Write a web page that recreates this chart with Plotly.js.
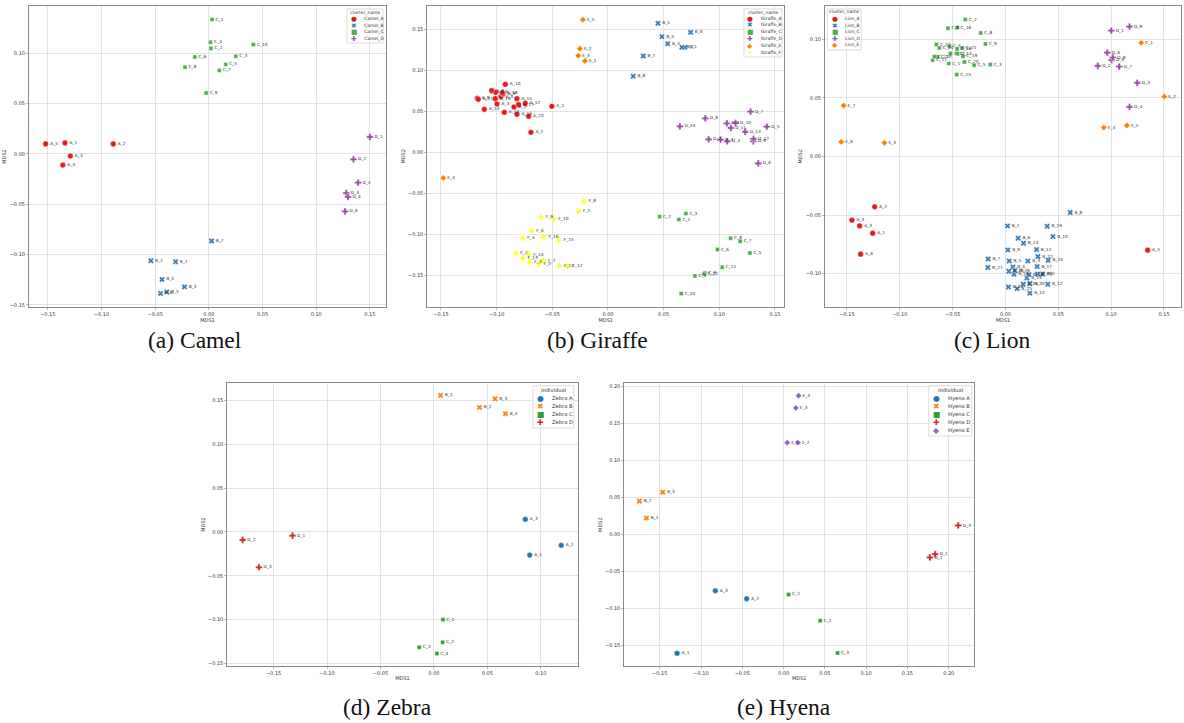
<!DOCTYPE html>
<html><head><meta charset="utf-8">
<script src="https://cdn.plot.ly/plotly-3.0.1.min.js"></script>
<style>html,body{margin:0;padding:0;background:#fff}#chart{width:1184px;height:723px}</style>
</head><body><div id="chart"></div>
<script>
// ---------------- data ----------------
const CAMEL_CLUSTERS = ['Camel_A','Camel_B','Camel_C','Camel_D'];
const CAMEL_LABEL = ['A_1','A_2','A_3','A_4','A_5','B_1','B_2','B_3','B_4','B_5','B_6','B_7','C_1','C_2','C_3','C_4','C_5','C_6','C_7','C_8','C_9','C_10','D_1','D_2','D_3','D_4','D_5','D_6'];
const CAMEL_X = [-0.134,-0.089,-0.129,-0.136,-0.152, -0.031,-0.054,-0.0227,-0.0436,-0.0392,-0.045,0.0025, 0.003,0.002,0.0251,0.0016,0.0157,-0.013,0.0097,-0.0222,-0.0025,0.0415, 0.150,0.1347,0.128,0.1296,0.139,0.1269];
const CAMEL_Y = [0.011,0.010,-0.002,-0.011,0.010, -0.107,-0.106,-0.132,-0.1246,-0.137,-0.1385,-0.0865, 0.1336,0.105,0.097,0.111,0.089,0.0964,0.083,0.0862,0.0606,0.1087, 0.0169,-0.0053,-0.0388,-0.0427,-0.0284,-0.057];

const GIRAFFE_CLUSTERS = ['Giraffe_A','Giraffe_B','Giraffe_C','Giraffe_D','Giraffe_E','Giraffe_F'];
const GIRAFFE_LABEL = ['A_1','A_2','A_3','A_4','A_5','A_6','A_7','A_8','A_9','A_10','A_11','A_12','A_13','A_14','A_15','A_16','A_17','A_18','A_19','A_20',
  'B_1','B_2','B_3','B_4','B_5','B_6','B_7','B_8',
  'C_1','C_2','C_3','C_4','C_5','C_6','C_7','C_8','C_9','C_10','C_11','C_12',
  'D_1','D_2','D_3','D_4','D_5','D_6','D_7','D_8','D_9','D_10','D_11','D_12','D_13','D_14',
  'E_1','E_2','E_3','E_4','E_5',
  'F_1','F_2','F_3','F_4','F_5','F_6','F_7','F_8','F_9','F_10','F_11','F_12','F_13','F_14','F_15','F_16'];
const GIRAFFE_X = [-0.0504,-0.0692,-0.0997,-0.0961,-0.0845,-0.1009,-0.1045,-0.1174,-0.0943,-0.0922,-0.1165,-0.0743,-0.1111,-0.0931,-0.0818,-0.0818,-0.0803,-0.0949,-0.1012,-0.0713,
  0.0691,0.0664,0.0536,0.0485,0.0449,0.0742,0.0317,0.0227,
  0.0637,0.0464,0.0700,0.0781,0.1275,0.0984,0.1188,0.1101,0.0871,0.0658,0.1026,0.0862,
  0.1068,0.0904,0.1071,0.1011,0.1427,0.1350,0.1281,0.0874,0.1305,0.1146,0.1104,0.1308,0.1233,0.0646,
  -0.0207,-0.0252,-0.0267,-0.1479,-0.0225,
  -0.0267,-0.0830,-0.0704,-0.0767,-0.0620,-0.0686,-0.0581,-0.0216,-0.0602,-0.0489,-0.0438,-0.0363,-0.0764,-0.0713,-0.0441,-0.0578];
const GIRAFFE_Y = [0.0561,0.0244,0.0589,0.0679,0.0553,0.0732,0.0752,0.0659,0.0711,0.0829,0.0646,0.0598,0.0524,0.0488,0.0654,0.0463,0.0581,0.0728,0.0654,0.0439,
  0.1280,0.1280,0.1325,0.1411,0.1573,0.1463,0.1175,0.0927,
  -0.0821,-0.0785,-0.0748,-0.1508,-0.1228,-0.1187,-0.1085,-0.1049,-0.1472,-0.1724,-0.1402,-0.1485,
  0.0354,0.0159,0.0134,0.0154,0.0313,-0.0134,0.0496,0.0415,0.0134,0.0358,0.0297,0.0163,0.0248,0.0317,
  0.1114,0.1264,0.1179,-0.0313,0.1618,
  -0.0720,-0.1228,-0.1341,-0.1049,-0.1362,-0.0955,-0.1321,-0.0598,-0.0793,-0.0813,-0.1386,-0.1386,-0.1293,-0.1248,-0.1073,-0.1033];

const LION_CLUSTERS = ['Lion_A','Lion_B','Lion_C','Lion_D','Lion_E'];
const LION_LABEL = ['A_1','A_2','A_3','A_4','A_5','A_6',
  'B_1','B_2','B_3','B_4','B_5','B_6','B_7','B_8','B_9','B_10','B_11','B_12','B_13','B_14','B_15','B_16','B_17','B_18','B_19','B_20','B_22','B_23','B_24','B_25','B_26','B_27','B_28','B_29','B_30',
  'C_1','C_2','C_3','C_4','C_5','C_6','C_8','C_9','C_10','C_11','C_12','C_13','C_14','C_15','C_16','C_17','C_18','C_19','C_20','C_21','C_22',
  'D_1','D_2','D_3','D_4','D_5','D_6','D_7','D_8','D_9',
  'E_1','E_2','E_3','E_4','E_5','E_6','E_7'];
const LION_X = [-0.1257,-0.1238,-0.1380,-0.1453,0.1345,-0.1371,
  0.0019,0.0350,0.0212,0.0070,0.0035,0.0120,-0.0164,0.0613,0.0023,0.0449,0.0294,0.0401,0.0231,0.0203,0.0168,0.0080,0.0300,0.0221,0.0395,0.0028,0.0307,0.0171,0.0404,0.0111,0.0032,-0.0167,0.0303,0.0089,0.0231,
  -0.0537,-0.0380,-0.0143,-0.0531,-0.0297,-0.0544,-0.0234,-0.0190,-0.0645,-0.0688,-0.0654,-0.0455,-0.0626,-0.0461,-0.0458,-0.0521,-0.0458,-0.0402,-0.0389,-0.0408,-0.0673,
  0.1001,0.0874,0.1247,0.1174,0.1004,0.0963,0.1076,0.1016,0.1174,
  0.1285,0.1503,-0.1146,0.0931,0.1149,-0.1554,-0.1532];
const LION_Y = [-0.0654,-0.0429,-0.0592,-0.0543,-0.0799,-0.0833,
  -0.0592,-0.1002,-0.0891,-0.0942,-0.0891,-0.0697,-0.0874,-0.0478,-0.0797,-0.0683,-0.0794,-0.1090,-0.1166,-0.1036,-0.1090,-0.1004,-0.0939,-0.1007,-0.0595,-0.1113,-0.0853,-0.0740,-0.0885,-0.1127,-0.0979,-0.0947,-0.1002,-0.0973,-0.1084,
  0.0793,0.1169,0.0785,0.0941,0.0779,0.1095,0.1055,0.0961,0.0850,0.0822,0.0956,0.0879,0.0927,0.0700,0.1101,0.0879,0.0918,0.0856,0.0807,0.0927,0.0853,
  0.1075,0.0774,0.0629,0.0424,0.0822,0.0887,0.0768,0.0845,0.1109,
  0.0970,0.0512,0.0117,0.0247,0.0265,0.0125,0.0435];

const ZEBRA_CLUSTERS = ['Zebra A','Zebra B','Zebra C','Zebra D'];
const ZEBRA_LABEL = ['A_1','A_2','A_3','B_1','B_2','B_3','B_4','C_1','C_2','C_3','C_4','D_1','D_2','D_3'];
const ZEBRA_X = [0.0896,0.1191,0.0855, 0.0062,0.0426,0.0572,0.0669, 0.0084,0.0081,-0.0137,0.0028, -0.1323,-0.1789,-0.1637];
const ZEBRA_Y = [-0.0263,-0.0152,0.0145, 0.1560,0.1423,0.1522,0.1351, -0.1001,-0.1260,-0.1317,-0.1389, -0.0042,-0.0091,-0.0403];

const HYENA_CLUSTERS = ['Hyena A','Hyena B','Hyena C','Hyena D','Hyena E'];
const HYENA_LABEL = ['A_1','A_2','A_3','B_1','B_2','B_3','C_1','C_2','C_3','D_1','D_2','D_3','E_1','E_2','E_3','E_4'];
const HYENA_X = [-0.1290,-0.0447,-0.0826, -0.1661,-0.1746,-0.1464, 0.0444,0.0061,0.0654, 0.1836,0.1772,0.2115, 0.0044,0.0174,0.0149,0.0182];
const HYENA_Y = [-0.1608,-0.0869,-0.0761, 0.0221,0.0450,0.0572, -0.1167,-0.0811,-0.1604, -0.0266,-0.0311,0.0122, 0.1243,0.1243,0.1712,0.1878];

// ---------------- styles ----------------
const SET1 = ['#e41a1c','#377eb8','#4daf4a','#984ea3','#ff7f00','#ffff33'];
const TAB10 = ['#1f77b4','#ff7f0e','#2ca02c','#d62728','#9467bd'];
const SYMBOLS = ['circle','x','square','cross','diamond','star-diamond'];
const SIZES = [5.6,5.2,4,5.6,4.8,6];
const GLYPHS = ['\u25CF','\u2716','\u25A0','\u271A','\u25C6','\u2726'];
const W = 1184, H = 723;

const panels = [
  {key:'', clusters:CAMEL_CLUSTERS, lab:CAMEL_LABEL, x:CAMEL_X, y:CAMEL_Y, pal:SET1,
   xr:[-0.1675,0.165], yr:[-0.152,0.147], px:[29,386], py:[6,307], title:'cluster_name',
   leg:{l:347,r:383,t:9,b:43,ty:12.5,y0:19,dy:6.7,sx:7,tx:15,fs:4.5}, cap:'(a) Camel', capx:195, capy:340},
  {key:'2', clusters:GIRAFFE_CLUSTERS, lab:GIRAFFE_LABEL, x:GIRAFFE_X, y:GIRAFFE_Y, pal:SET1,
   xr:[-0.1623,0.1584], yr:[-0.1887,0.1788], px:[427.3,784.3], py:[5.7,307], title:'cluster_name',
   leg:{l:744,r:782,t:9,b:57,ty:12.5,y0:18.7,dy:6.8,sx:6.3,tx:15,fs:4.5}, cap:'(b) Giraffe', capx:597, capy:340},
  {key:'3', clusters:LION_CLUSTERS, lab:LION_LABEL, x:LION_X, y:LION_Y, pal:SET1,
   xr:[-0.1708,0.1661], yr:[-0.1284,0.1287], px:[825,1181], py:[5.7,307], title:'cluster_name',
   leg:{l:827.3,r:861.3,t:9,b:50,ty:12.3,y0:19,dy:6.6,sx:7.4,tx:15.4,fs:4.5}, cap:'(c) Lion', capx:992, capy:340},
  {key:'4', clusters:ZEBRA_CLUSTERS, lab:ZEBRA_LABEL, x:ZEBRA_X, y:ZEBRA_Y, pal:TAB10,
   xr:[-0.1933,0.1345], yr:[-0.1531,0.1702], px:[227.3,577.7], py:[383,666], title:'individual',
   leg:{l:533,r:573.7,t:385.7,b:428,ty:390,y0:398.3,dy:8,sx:7.3,tx:17,fs:5.2}, cap:'(d) Zebra', capx:387, capy:707},
  {key:'5', clusters:HYENA_CLUSTERS, lab:HYENA_LABEL, x:HYENA_X, y:HYENA_Y, pal:TAB10,
   xr:[-0.1929,0.2310], yr:[-0.178,0.2046], px:[624.3,974.3], py:[383.3,666], title:'individual',
   leg:{l:928.7,r:971.7,t:385.7,b:436,ty:390.3,y0:398,dy:8.2,sx:7.3,tx:17,fs:5.2}, cap:'(e) Hyena', capx:784, capy:707}
];

const traces = [], annotations = [], shapes = [];
const layout = {width:W, height:H, margin:{l:0,r:0,t:0,b:0}, paper_bgcolor:'#fff', plot_bgcolor:'#fff',
  showlegend:false, hovermode:false, font:{family:'DejaVu Sans', color:'#333'}};

function axis(range, domain, anchor, title, isX) {
  return {range, domain, anchor, tick0:0, dtick:0.05, tickformat:'.2f',
    showgrid:true, gridcolor:'#dcdcdc', gridwidth:0.8, zeroline:false,
    showline:true, linecolor:'#8a8a8a', linewidth:1, mirror:true,
    ticks:'outside', ticklen:2, tickwidth:0.6, tickcolor:'#8a8a8a',
    tickfont:{size:5, color:'#333', family:'DejaVu Sans'},
    title:{text:title, font:{size:5, color:'#333', family:'DejaVu Sans'}, standoff: isX ? 1 : 2},
    fixedrange:true};
}

panels.forEach(p => {
  const xa = 'x' + p.key, ya = 'y' + p.key;
  layout['xaxis' + p.key] = axis(p.xr, [p.px[0]/W, p.px[1]/W], ya, 'MDS1', true);
  layout['yaxis' + p.key] = axis(p.yr, [1 - p.py[1]/H, 1 - p.py[0]/H], xa, 'MDS2', false);
  p.clusters.forEach((name, ci) => {
    const letter = 'ABCDEF'[ci];
    const idx = p.lab.map((l, i) => l[0] === letter ? i : -1).filter(i => i >= 0);
    traces.push({
      type:'scatter', mode:'markers+text', name, xaxis:xa, yaxis:ya,
      x: idx.map(i => p.x[i]), y: idx.map(i => p.y[i]), text: idx.map(i => p.lab[i]),
      textposition:'middle right', textfont:{size:4.3, color:'#333', family:'DejaVu Sans'},
      marker:{symbol:SYMBOLS[ci], size:SIZES[ci], color:p.pal[ci], line:{color:'#fff', width:0.4}}
    });
  });
  // legend box
  const L = p.leg;
  shapes.push({type:'rect', xref:'paper', yref:'paper', x0:L.l/W, x1:L.r/W, y0:1-L.b/H, y1:1-L.t/H,
    line:{color:'#d0d0d0', width:0.7}, fillcolor:'rgba(255,255,255,0.85)', layer:'above'});
  annotations.push({xref:'paper', yref:'paper', x:(L.l+L.r)/2/W, y:1-L.ty/H, text:p.title, showarrow:false,
    xanchor:'center', yanchor:'middle', font:{size:L.fs, color:'#333', family:'DejaVu Sans'}});
  p.clusters.forEach((name, ci) => {
    const yy = 1 - (L.y0 + ci*L.dy)/H;
    annotations.push({xref:'paper', yref:'paper', x:(L.l+L.sx)/W, y:yy, text:GLYPHS[ci], showarrow:false,
      xanchor:'center', yanchor:'middle', font:{size:L.fs*1.5, color:p.pal[ci], family:'DejaVu Sans'}});
    annotations.push({xref:'paper', yref:'paper', x:(L.l+L.tx)/W, y:yy, text:name, showarrow:false,
      xanchor:'left', yanchor:'middle', font:{size:L.fs, color:'#333', family:'DejaVu Sans'}});
  });
  // caption
  annotations.push({xref:'paper', yref:'paper', x:p.capx/W, y:1-p.capy/H, text:p.cap, showarrow:false,
    xanchor:'center', yanchor:'middle', font:{size:23.5, color:'#111', family:'Liberation Serif'}});
});
layout.annotations = annotations;
layout.shapes = shapes;

Plotly.newPlot('chart', traces, layout, {displayModeBar:false, staticPlot:true});
</script>
</body></html>
